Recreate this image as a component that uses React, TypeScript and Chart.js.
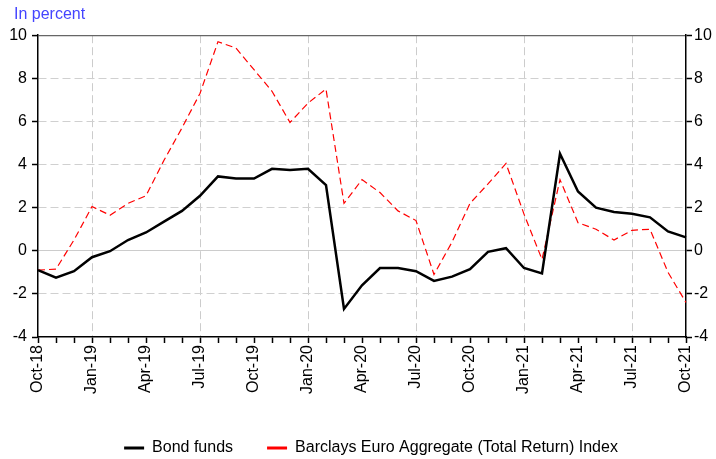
import React, { useEffect, useRef } from "react";
import { Chart, registerables } from "chart.js";

Chart.register(...registerables);

const months = [
  "Oct-18","Nov-18","Dec-18","Jan-19","Feb-19","Mar-19","Apr-19","May-19","Jun-19","Jul-19","Aug-19","Sep-19",
  "Oct-19","Nov-19","Dec-19","Jan-20","Feb-20","Mar-20","Apr-20","May-20","Jun-20","Jul-20","Aug-20","Sep-20",
  "Oct-20","Nov-20","Dec-20","Jan-21","Feb-21","Mar-21","Apr-21","May-21","Jun-21","Jul-21","Aug-21","Sep-21","Oct-21",
];

const bondFunds = [
  -0.9, -1.25, -0.95, -0.3, -0.02, 0.5, 0.85, 1.35, 1.85, 2.55, 3.45, 3.35,
  3.35, 3.8, 3.75, 3.8, 3.05, -2.7, -1.6, -0.8, -0.8, -0.95, -1.4, -1.2,
  -0.85, -0.05, 0.12, -0.8, -1.05, 4.5, 2.75, 2.0, 1.8, 1.72, 1.55, 0.9, 0.62,
];

const barclaysIndex = [
  -0.9, -0.85, 0.5, 2.05, 1.65, 2.2, 2.55, 4.2, 5.7, 7.3, 9.7, 9.4,
  8.4, 7.4, 5.95, 6.85, 7.5, 2.2, 3.3, 2.7, 1.85, 1.4, -1.1, 0.4,
  2.2, 3.1, 4.05, 1.7, -0.4, 3.3, 1.3, 1.0, 0.5, 0.95, 1.0, -1.0, -2.4,
];

const yMin = -4;
const yMax = 10;
const yStep = 2;

const FONT = "'Liberation Sans', Arial, sans-serif";

const layoutShift = {
  id: "layoutShift",
  afterLayout(chart: any) {
    if (chart.titleBlock) {
      chart.titleBlock.left = 14;
    }
    if (chart.legend) {
      chart.legend.left += 13;
      chart.legend.right += 13;
    }
  },
};

export default function App() {
  const ref = useRef<HTMLCanvasElement | null>(null);

  useEffect(() => {
    if (!ref.current) return;
    const chart = new Chart(ref.current, {
      type: "line",
      data: {
        labels: months,
        datasets: [
          {
            label: "Bond funds",
            data: bondFunds,
            borderColor: "#000000",
            backgroundColor: "#000000",
            borderWidth: 2.5,
            pointRadius: 0,
            tension: 0,
            yAxisID: "y",
          },
          {
            label: "Barclays Euro Aggregate (Total Return) Index",
            data: barclaysIndex,
            borderColor: "#ff0000",
            backgroundColor: "#ff0000",
            borderWidth: 1.2,
            borderDash: [7, 4],
            pointRadius: 0,
            tension: 0,
            yAxisID: "y",
          },
        ],
      },
      plugins: [layoutShift],
      options: {
        animation: false,
        responsive: false,
        maintainAspectRatio: false,
        layout: { padding: { left: 0, right: 0, top: 0, bottom: -7 } },
        plugins: {
          title: {
            display: true,
            text: "In percent",
            align: "start",
            color: "#4444ff",
            font: { family: FONT, size: 16, weight: "normal" },
            padding: { top: 5, bottom: 11 },
          },
          legend: {
            position: "bottom",
            labels: {
              color: "#000",
              font: { family: FONT, size: 16 },
              boxWidth: 20,
              boxHeight: 3,
              padding: 34,
              generateLabels: (c: any) =>
                c.data.datasets.map((d: any, i: number) => ({
                  text: d.label,
                  fillStyle: d.borderColor,
                  strokeStyle: d.borderColor,
                  lineWidth: 0,
                  lineDash: [],
                  hidden: false,
                  datasetIndex: i,
                  fontColor: "#000",
                })),
            },
          },
          tooltip: { enabled: false },
        },
        scales: {
          x: {
            type: "category",
            offset: false,
            afterFit: (s: any) => {
              s.height = 69;
            },
            grid: {
              offset: false,
              drawOnChartArea: true,
              color: (ctx: any) => (ctx.index % 6 === 3 ? "#cccccc" : "rgba(0,0,0,0)"),
              lineWidth: 1,
              tickColor: "#000",
              tickLength: 6,
              tickWidth: 1.5,
            },
            border: { display: true, color: "#000", width: 1.5, dash: [8, 4] },
            ticks: {
              autoSkip: false,
              maxRotation: 90,
              minRotation: 90,
              color: "#000",
              font: { family: FONT, size: 16 },
              padding: 2,
              callback: (_v: any, i: number) => (i % 3 === 0 ? months[i] : ""),
            },
          },
          y: {
            position: "left",
            min: yMin,
            max: yMax,
            afterFit: (s: any) => {
              s.width = 38;
            },
            ticks: {
              stepSize: yStep,
              color: "#000",
              font: { family: FONT, size: 16 },
              padding: 5,
            },
            grid: {
              color: (ctx: any) => {
                const v = ctx.tick && ctx.tick.value;
                if (v === yMax) return "#666666";
                if (v === 0) return "#cccccc";
                if (v === yMin) return "rgba(0,0,0,0)";
                return "#d0d0d0";
              },
              lineWidth: (ctx: any) => (ctx.tick && ctx.tick.value === yMax ? 1.2 : 1),
              tickColor: "#000",
              tickLength: 6,
              tickWidth: 1.5,
            },
            border: {
              display: true,
              color: "#000",
              width: 1.5,
              dash: (ctx: any) => {
                const v = ctx.tick && ctx.tick.value;
                return v === 0 || v === yMax ? [] : [8, 4];
              },
            },
          },
          y2: {
            position: "right",
            min: yMin,
            max: yMax,
            afterFit: (s: any) => {
              s.width = 30;
            },
            ticks: {
              stepSize: yStep,
              color: "#000",
              font: { family: FONT, size: 16 },
              padding: 2,
            },
            grid: {
              drawOnChartArea: false,
              tickColor: "#000",
              tickLength: 6,
              tickWidth: 1.5,
            },
            border: { display: true, color: "#000", width: 1.5 },
          },
        },
      },
    });
    return () => chart.destroy();
  }, []);

  return (
    <div style={{ position: "absolute", left: 0, top: 0, width: 716, height: 459, background: "#fff" }}>
      <canvas ref={ref} width={716} height={459} style={{ width: 716, height: 459 }} />
    </div>
  );
}
